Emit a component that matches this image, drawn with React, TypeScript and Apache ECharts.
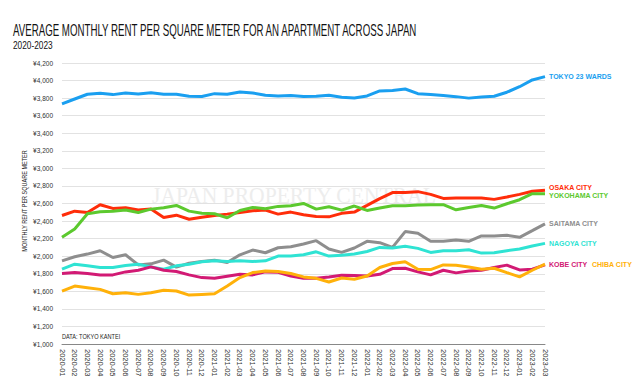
import React, { useEffect, useRef } from 'react';
import * as echarts from 'echarts';

const months = [
  '2020-01', '2020-02', '2020-03', '2020-04', '2020-05', '2020-06', '2020-07', '2020-08', '2020-09', '2020-10', '2020-11', '2020-12',
  '2021-01', '2021-02', '2021-03', '2021-04', '2021-05', '2021-06', '2021-07', '2021-08', '2021-09', '2021-10', '2021-11', '2021-12',
  '2022-01', '2022-02', '2022-03', '2022-04', '2022-05', '2022-06', '2022-07', '2022-08', '2022-09', '2022-10', '2022-11', '2022-12',
  '2023-01', '2023-02', '2023-03',
];

const tokyo = [3735, 3790, 3844, 3855, 3840, 3859, 3848, 3862, 3844, 3844, 3821, 3818, 3851, 3844, 3870, 3859, 3832, 3825, 3829, 3818, 3821, 3832, 3810, 3802, 3825, 3882, 3886, 3904, 3851, 3840, 3829, 3817, 3800, 3813, 3821, 3867, 3930, 4007, 4045];
const osaka = [2463, 2513, 2498, 2586, 2544, 2551, 2525, 2536, 2441, 2467, 2421, 2444, 2463, 2479, 2498, 2517, 2525, 2479, 2502, 2471, 2452, 2448, 2488, 2502, 2578, 2655, 2724, 2724, 2735, 2704, 2658, 2662, 2662, 2662, 2647, 2674, 2704, 2739, 2750];
const yokohama = [2215, 2310, 2483, 2506, 2513, 2525, 2498, 2536, 2551, 2578, 2513, 2490, 2483, 2437, 2521, 2555, 2540, 2567, 2574, 2601, 2536, 2563, 2524, 2571, 2521, 2548, 2574, 2574, 2582, 2586, 2586, 2528, 2555, 2578, 2548, 2597, 2643, 2712, 2712];
const saitama = [1947, 1993, 2024, 2062, 1985, 2016, 1901, 1913, 1955, 1875, 1920, 1940, 1955, 1928, 2016, 2070, 2039, 2096, 2108, 2138, 2177, 2081, 2043, 2093, 2169, 2154, 2100, 2280, 2261, 2169, 2169, 2184, 2169, 2230, 2230, 2238, 2215, 2291, 2368];
const nagoya = [1852, 1909, 1890, 1871, 1871, 1894, 1909, 1878, 1852, 1890, 1909, 1936, 1947, 1940, 1947, 1940, 1947, 2001, 2001, 2016, 2050, 2001, 2012, 2024, 2054, 2100, 2093, 2112, 2089, 2043, 2062, 2062, 2073, 2035, 2039, 2062, 2081, 2116, 2146];
const kobe = [1802, 1813, 1802, 1787, 1787, 1821, 1840, 1878, 1840, 1825, 1787, 1756, 1748, 1771, 1794, 1787, 1821, 1817, 1775, 1748, 1748, 1764, 1783, 1779, 1775, 1794, 1859, 1863, 1821, 1787, 1840, 1810, 1832, 1840, 1871, 1898, 1844, 1852, 1901];
const chiba = [1603, 1660, 1641, 1622, 1572, 1584, 1565, 1584, 1611, 1603, 1557, 1565, 1572, 1660, 1756, 1813, 1832, 1825, 1802, 1764, 1748, 1706, 1752, 1737, 1775, 1871, 1917, 1936, 1852, 1848, 1901, 1898, 1878, 1852, 1863, 1813, 1764, 1840, 1909];

const seriesNames = ['TOKYO 23 WARDS', 'OSAKA CITY', 'YOKOHAMA CITY', 'SAITAMA CITY', 'NAGOYA CITY', 'KOBE CITY', 'CHIBA CITY'];
const seriesValues = [tokyo, osaka, yokohama, saitama, nagoya, kobe, chiba];
const seriesColors = ['#1a9ff0', '#ff2d0a', '#5cc92e', '#8e8e8e', '#2fe3d3', '#d21a74', '#ffb10a'];
const labelOffsets = [[0, 0], [0, -3], [0, 2], [0, 0], [0, 0], [0, 0], [43, 0]];

const yMin = 1000;
const yMax = 4200;
const yStep = 200;

const FONT = "'Liberation Sans', Arial, sans-serif";

export default function App() {
  const ref = useRef<HTMLDivElement>(null);

  useEffect(() => {
    if (!ref.current) return;
    const chart = echarts.init(ref.current, null, { renderer: 'svg' });
    chart.setOption({
      animation: false,
      backgroundColor: '#ffffff',
      textStyle: { fontFamily: FONT },
      grid: {
        left: 62,
        right: 91,
        top: 63,
        bottom: 38,
        containLabel: false,
        outerBoundsMode: 'none',
      },
      graphic: [
        {
          type: 'text',
          x: 13,
          y: 23,
          scaleX: 0.607,
          z: 10,
          style: {
            text: 'AVERAGE MONTHLY RENT PER SQUARE METER FOR AN APARTMENT ACROSS JAPAN',
            font: `16px ${FONT}`,
            fill: '#111111',
            textVerticalAlign: 'top',
          },
        },
        {
          type: 'text',
          x: 13,
          y: 41,
          scaleX: 0.83,
          z: 10,
          style: {
            text: '2020-2023',
            font: `10px ${FONT}`,
            fill: '#111111',
            textVerticalAlign: 'top',
          },
        },
        {
          type: 'text',
          x: 152,
          y: 183,
          scaleX: 0.9,
          z: 0,
          silent: true,
          style: {
            text: 'JAPAN PROPERTY CENTRAL',
            font: `24px 'Liberation Serif', 'DejaVu Serif', serif`,
            fill: '#ededed',
            textVerticalAlign: 'top',
          },
        },
        {
          type: 'text',
          x: 62,
          y: 333,
          scaleX: 0.8,
          z: 10,
          style: {
            text: 'DATA: TOKYO KANTEI',
            font: `7px ${FONT}`,
            fill: '#222222',
            textVerticalAlign: 'top',
          },
        },
        {
          type: 'text',
          x: 24,
          y: 201,
          rotation: Math.PI / 2,
          scaleX: 0.69,
          z: 10,
          style: {
            text: 'MONTHLY RENT PER SQUARE METER',
            font: `8px ${FONT}`,
            fill: '#222222',
            textAlign: 'center',
            textVerticalAlign: 'middle',
          },
        },
      ],
      xAxis: {
        type: 'category',
        data: months,
        boundaryGap: false,
        axisLine: { show: true, lineStyle: { color: '#888888', width: 1 } },
        axisTick: { show: false },
        splitLine: { show: false },
        axisLabel: {
          interval: 0,
          rotate: -90,
          fontSize: 7.5,
          color: '#333333',
          margin: 5,
          fontFamily: FONT,
        },
      },
      yAxis: {
        type: 'value',
        min: yMin,
        max: yMax,
        interval: yStep,
        axisLine: { show: false },
        axisTick: { show: false },
        splitLine: { show: true, lineStyle: { color: '#e2e2e2', width: 1 } },
        axisLabel: {
          fontSize: 6.5,
          color: '#333333',
          margin: 9,
          fontFamily: FONT,
          formatter: (v: number) => '¥' + v.toLocaleString('en-US'),
        },
      },
      series: seriesNames.map((name, i) => ({
        name,
        type: 'line',
        data: seriesValues[i],
        symbol: 'none',
        smooth: false,
        z: 3,
        lineStyle: { color: seriesColors[i], width: 3 },
        itemStyle: { color: seriesColors[i] },
        endLabel: {
          show: true,
          formatter: '{a}',
          color: seriesColors[i],
          fontSize: 7,
          fontWeight: 'bold',
          fontFamily: FONT,
          distance: 4,
          offset: labelOffsets[i],
        },
      })),
    });
    return () => chart.dispose();
  }, []);

  return (
    <div
      ref={ref}
      style={{ position: 'fixed', left: 0, top: 0, width: 636, height: 382 }}
    />
  );
}
